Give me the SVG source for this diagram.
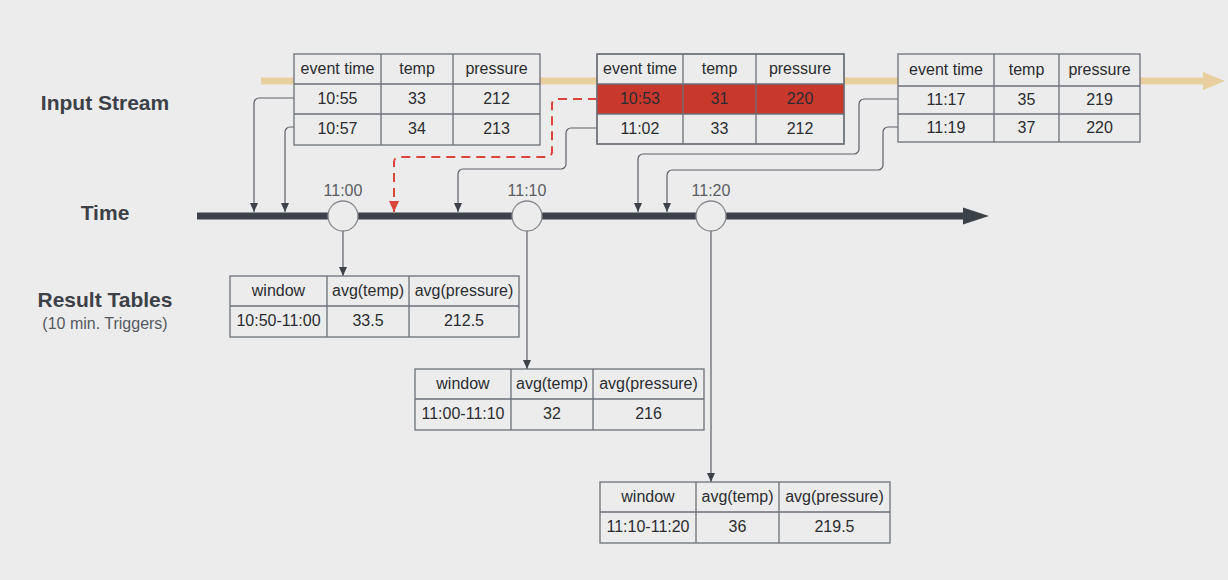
<svg xmlns="http://www.w3.org/2000/svg" width="1228" height="580" viewBox="0 0 1228 580">
<style>
.t{font-family:"Liberation Sans",Arial,sans-serif;font-size:16px;fill:#2b2d31;text-anchor:middle}
.lbl{font-family:"Liberation Sans",Arial,sans-serif;font-size:21px;font-weight:bold;fill:#3c4047;text-anchor:middle}
.sub{font-family:"Liberation Sans",Arial,sans-serif;font-size:16px;fill:#55595f;text-anchor:middle}
.tick{font-family:"Liberation Sans",Arial,sans-serif;font-size:16px;fill:#5a5e64;text-anchor:middle}
.cell{fill:#ececec;stroke:#6c7078;stroke-width:1.3}
.grid{stroke:#6c7078;stroke-width:1.3;fill:none}
.con{fill:none;stroke:#5c6068;stroke-width:1.2}
.red{fill:none;stroke:#d9443c;stroke-width:2;stroke-dasharray:9 6}
.circ{fill:#ececec;stroke:#85888d;stroke-width:1.3}
</style>
<defs>
<marker id="ah" markerWidth="9" markerHeight="8" refX="9" refY="4" orient="auto" markerUnits="userSpaceOnUse" viewBox="0 0 9 8">
<path d="M0 0 L9 4 L0 8 Z" fill="#3d4249"/>
</marker>
<marker id="ahr" markerWidth="11" markerHeight="10" refX="11" refY="5" orient="auto" markerUnits="userSpaceOnUse" viewBox="0 0 11 10">
<path d="M0 0 L11 5 L0 10 Z" fill="#d9443c"/>
</marker>
</defs>
<rect width="1228" height="580" fill="#ececec"/>

<g id="labels">
<text class="lbl" x="105" y="110">Input Stream</text>
<text class="lbl" x="105" y="220">Time</text>
<text class="lbl" x="105" y="307">Result Tables</text>
<text class="sub" x="105" y="329">(10 min. Triggers)</text>
</g>

<g id="input-stream">
<line x1="261" y1="81" x2="1205" y2="81" stroke="#e8cf9f" stroke-width="7"/>
<polygon points="1203,72 1225,81 1203,90" fill="#e8cf9f"/>
</g>

<g id="time-axis">
<line x1="197" y1="216" x2="966" y2="216" stroke="#3d4249" stroke-width="7"/>
<polygon points="963,207.5 989,216 963,224.5" fill="#3d4249"/>
</g>

<g id="connectors">
<path class="con" d="M294 98 H259 A5 5 0 0 0 254 103 V212" marker-end="url(#ah)"/>
<path class="con" d="M294 127 H290 A5 5 0 0 0 285 132 V212" marker-end="url(#ah)"/>
<path class="con" d="M597 128 H571 A5 5 0 0 0 566 133 V164 A5 5 0 0 1 561 169 H463 A5 5 0 0 0 458 174 V212" marker-end="url(#ah)"/>
<path class="con" d="M898 99 H864 A5 5 0 0 0 859 104 V149 A5 5 0 0 1 854 154 H643 A5 5 0 0 0 638 159 V212" marker-end="url(#ah)"/>
<path class="con" d="M898 127 H888 A5 5 0 0 0 883 132 V165 A5 5 0 0 1 878 170 H672 A5 5 0 0 0 667 175 V212" marker-end="url(#ah)"/>
<path class="red" d="M597 99 H557 A5 5 0 0 0 552 104 V152 A5 5 0 0 1 547 157 H399 A5 5 0 0 0 394 162 V212" marker-end="url(#ahr)"/>
<path class="con" d="M343 231 V276" marker-end="url(#ah)"/>
<path class="con" d="M527 231 V369" marker-end="url(#ah)"/>
<path class="con" d="M711 231 V482" marker-end="url(#ah)"/>
</g>

<g id="trigger-1100">
<circle class="circ" cx="343" cy="216" r="15"/>
<text class="tick" x="343" y="196">11:00</text>
</g>
<g id="trigger-1110">
<circle class="circ" cx="527" cy="216" r="15"/>
<text class="tick" x="527" y="196">11:10</text>
</g>
<g id="trigger-1120">
<circle class="circ" cx="711" cy="216" r="15"/>
<text class="tick" x="711" y="196">11:20</text>
</g>

<g id="input-table-1">
<rect class="cell" x="294" y="54" width="246" height="91"/>
<path class="grid" d="M294 84 H540 M294 114 H540 M381 54 V145 M453 54 V145"/>
<text class="t" x="337.5" y="74">event time</text>
<text class="t" x="417" y="74">temp</text>
<text class="t" x="496.5" y="74">pressure</text>
<text class="t" x="337.5" y="104">10:55</text>
<text class="t" x="417" y="104">33</text>
<text class="t" x="496.5" y="104">212</text>
<text class="t" x="337.5" y="134">10:57</text>
<text class="t" x="417" y="134">34</text>
<text class="t" x="496.5" y="134">213</text>
</g>

<g id="input-table-2">
<rect class="cell" x="597" y="54" width="247" height="90"/>
<rect x="597" y="84" width="247" height="30" fill="#c8382d"/>
<path class="grid" d="M597 84 H844 M597 114 H844 M683 54 V144 M756 54 V144"/>
<rect x="597" y="54" width="247" height="90" fill="none" stroke="#6c7078" stroke-width="1.3"/>
<text class="t" x="640" y="74">event time</text>
<text class="t" x="719.5" y="74">temp</text>
<text class="t" x="800" y="74">pressure</text>
<text class="t" x="640" y="104">10:53</text>
<text class="t" x="719.5" y="104">31</text>
<text class="t" x="800" y="104">220</text>
<text class="t" x="640" y="134">11:02</text>
<text class="t" x="719.5" y="134">33</text>
<text class="t" x="800" y="134">212</text>
</g>

<g id="input-table-3">
<rect class="cell" x="898" y="54" width="242" height="88"/>
<path class="grid" d="M898 86 H1140 M898 114 H1140 M994 54 V142 M1059 54 V142"/>
<text class="t" x="946" y="75">event time</text>
<text class="t" x="1026.5" y="75">temp</text>
<text class="t" x="1099.5" y="75">pressure</text>
<text class="t" x="946" y="105">11:17</text>
<text class="t" x="1026.5" y="105">35</text>
<text class="t" x="1099.5" y="105">219</text>
<text class="t" x="946" y="133">11:19</text>
<text class="t" x="1026.5" y="133">37</text>
<text class="t" x="1099.5" y="133">220</text>
</g>

<g id="result-table-1">
<rect class="cell" x="230" y="276" width="289" height="61"/>
<path class="grid" d="M230 306 H519 M327 276 V337 M409 276 V337"/>
<text class="t" x="278.5" y="296">window</text>
<text class="t" x="368" y="296">avg(temp)</text>
<text class="t" x="464" y="296">avg(pressure)</text>
<text class="t" x="278.5" y="326">10:50-11:00</text>
<text class="t" x="368" y="326">33.5</text>
<text class="t" x="464" y="326">212.5</text>
</g>

<g id="result-table-2">
<rect class="cell" x="415" y="369" width="289" height="61"/>
<path class="grid" d="M415 399 H704 M511 369 V430 M593 369 V430"/>
<text class="t" x="463" y="389">window</text>
<text class="t" x="552" y="389">avg(temp)</text>
<text class="t" x="648.5" y="389">avg(pressure)</text>
<text class="t" x="463" y="419">11:00-11:10</text>
<text class="t" x="552" y="419">32</text>
<text class="t" x="648.5" y="419">216</text>
</g>

<g id="result-table-3">
<rect class="cell" x="600" y="482" width="290" height="61"/>
<path class="grid" d="M600 512 H890 M696 482 V543 M779 482 V543"/>
<text class="t" x="648" y="502">window</text>
<text class="t" x="737.5" y="502">avg(temp)</text>
<text class="t" x="834.5" y="502">avg(pressure)</text>
<text class="t" x="648" y="532">11:10-11:20</text>
<text class="t" x="737.5" y="532">36</text>
<text class="t" x="834.5" y="532">219.5</text>
</g>
</svg>
